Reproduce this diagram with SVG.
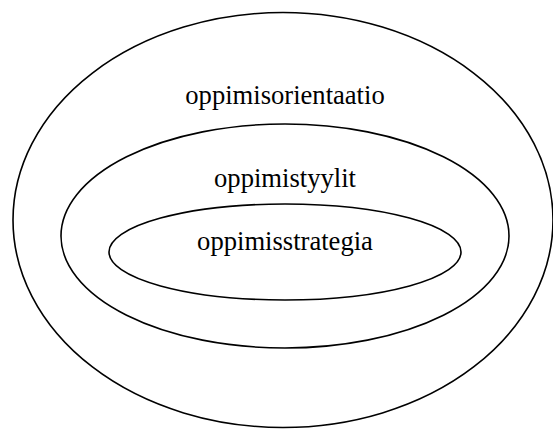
<svg xmlns="http://www.w3.org/2000/svg" width="553" height="429" viewBox="0 0 553 429">
<style>
.ring{fill:none;stroke:#000;stroke-width:1.6}
.lbl{font-family:"Liberation Serif","Times New Roman",serif;font-size:26.6px;fill:#000;text-anchor:middle}
</style>
<rect width="553" height="429" fill="#fff"/>
<g id="oppimisorientaatio">
<ellipse class="ring" cx="283" cy="220" rx="270" ry="207.5"/>
<text class="lbl" x="285" y="104">oppimisorientaatio</text>
</g>
<g id="oppimistyylit">
<ellipse class="ring" cx="285" cy="236" rx="224" ry="112"/>
<text class="lbl" x="285" y="187">oppimistyylit</text>
</g>
<g id="oppimisstrategia">
<ellipse class="ring" cx="285" cy="252" rx="176" ry="48"/>
<text class="lbl" x="285" y="250">oppimisstrategia</text>
</g>
<g id="connectors"/>
</svg>
